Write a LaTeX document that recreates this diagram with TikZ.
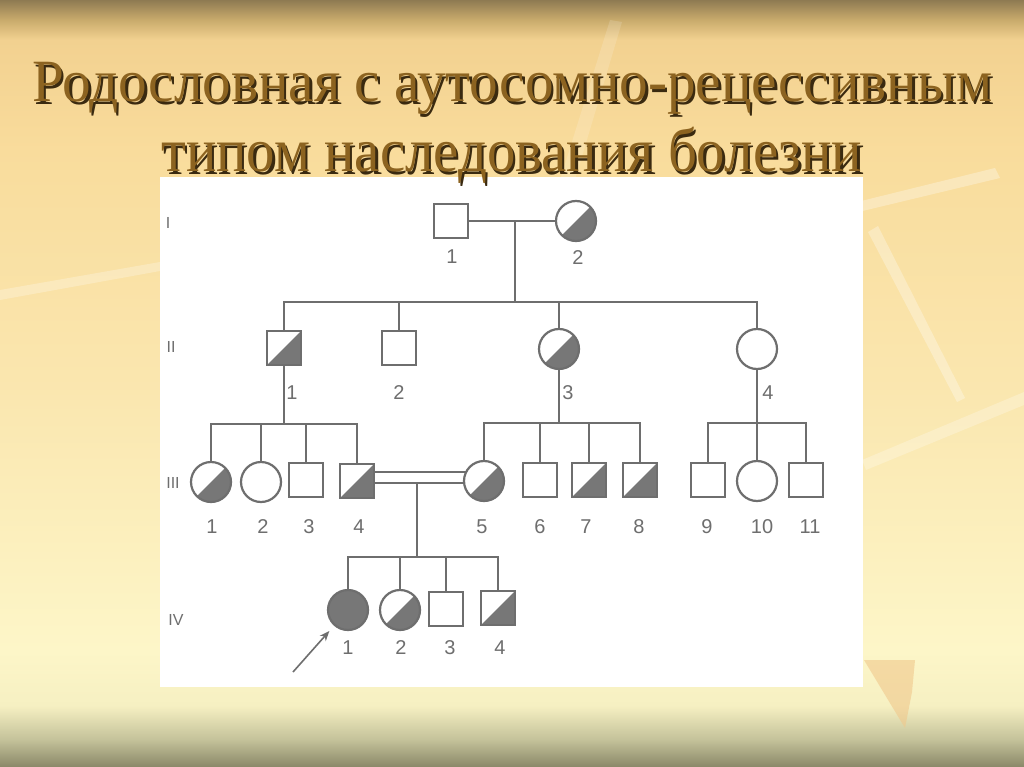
\documentclass[tikz,border=0pt]{standalone}
\usepackage{fontspec}
\setmainfont{Liberation Serif}
\newfontfamily\lblfont{Liberation Sans}
\usetikzlibrary{arrows.meta}
\definecolor{lc}{HTML}{6E6E6E}
\definecolor{fc}{HTML}{777777}
\definecolor{tc}{HTML}{8C6320}
\definecolor{ts}{HTML}{3A2A10}
\definecolor{peach}{HTML}{F0C88C}
\definecolor{b0}{HTML}{8A8868}
\definecolor{b1}{HTML}{C4C29A}
\definecolor{b2}{HTML}{F6F0C2}
\definecolor{b3}{HTML}{FDF6C8}
\definecolor{b4}{HTML}{FAE7B0}
\definecolor{b5}{HTML}{F9DC9C}
\definecolor{b6}{HTML}{F2D190}
\definecolor{b7}{HTML}{C9AB6C}
\definecolor{b8}{HTML}{8E7A52}
\pgfdeclareverticalshading{bgshade}{100bp}{color(0bp)=(b0); color(25bp)=(b0); color(26.8bp)=(b1); color(29bp)=(b2); color(32.6bp)=(b3); color(48.9bp)=(b4); color(65.2bp)=(b5); color(72.4bp)=(b6); color(73.7bp)=(b7); color(75bp)=(b8); color(100bp)=(b8)}
\pgfdeclarelayer{back}
\pgfdeclarelayer{conns}
\pgfsetlayers{back,conns,main}
\newcommand{\shadowedtext}[1]{\makebox[0pt][l]{\hspace{2.5pt}\raisebox{-2.5pt}{\textcolor{ts}{#1}}}\textcolor{tc}{#1}}
\tikzset{
 male/.style={rectangle, draw=lc, line width=2.2pt, fill=white, minimum size=34pt, inner sep=0pt},
 female/.style={circle, draw=lc, line width=2.2pt, fill=white, minimum size=40pt, inner sep=0pt},
 carrier/.style={path picture={\fill[fc] (path picture bounding box.south west) -- (path picture bounding box.south east) -- (path picture bounding box.north east) -- cycle;}},
 affected/.style={fill=fc},
 conn/.style={draw=lc, line width=2.2pt},
 num/.style={font=\lblfont\fontsize{20}{20}\selectfont, text=lc, inner sep=0pt},
 gen/.style={font=\lblfont\fontsize{16}{16}\selectfont, text=lc, inner sep=0pt},
 ttl/.style={anchor=base west, inner sep=0pt, font=\fontsize{60}{70}\selectfont},
}
\begin{document}
\begin{tikzpicture}[x=1pt,y=-1pt]
\useasboundingbox (0,0) rectangle (1024,767);
\begin{pgfonlayer}{back}
\fill[shading=bgshade] (0,0) rectangle (1024,767);
\fill[white, opacity=0.3] (868,232) -- (878,226) -- (965,398) -- (957,402) -- cycle;
\fill[white, opacity=0.3] (845,205) -- (995,168) -- (1000,178) -- (850,214) -- cycle;
\fill[white, opacity=0.25] (862,460) -- (1024,392) -- (1024,405) -- (866,470) -- cycle;
\fill[white, opacity=0.25] (0,290) -- (160,262) -- (160,271) -- (0,300) -- cycle;
\fill[white, opacity=0.15] (560,180) -- (610,20) -- (622,22) -- (575,180) -- cycle;
\fill[peach, opacity=0.6] (864,660) -- (915,660) -- (912,692) -- (905,728) -- cycle;
\fill[white] (160,177) rectangle (863,687);
\end{pgfonlayer}
% title
\node[ttl] (t1) at (32,102) {\resizebox{960pt}{\height}{\shadowedtext{Родословная с аутосомно-рецессивным}}};
\node[ttl, font=\fontsize{62}{70}\selectfont] (t2) at (161,172) {\resizebox{701pt}{\height}{\shadowedtext{типом наследования болезни}}};
% generation labels
\node[gen] (gI) at (168,223) {I};
\node[gen] (gII) at (171,347) {II};
\node[gen] (gIII) at (173,483) {III};
\node[gen] (gIV) at (176,620) {IV};
% generation I
\node[male] (I1) at (451,221) {};
\node[female, carrier] (I2) at (576,221) {};
\node[num] (lI1) at (452,257) {1};
\node[num] (lI2) at (578,258) {2};
% generation II
\node[male, carrier] (II1) at (284,348) {};
\node[male] (II2) at (399,348) {};
\node[female, carrier] (II3) at (559,349) {};
\node[female] (II4) at (757,349) {};
\node[num] (lII1) at (292,393) {1};
\node[num] (lII2) at (399,393) {2};
\node[num] (lII3) at (568,393) {3};
\node[num] (lII4) at (768,393) {4};
% generation III
\node[female, carrier] (III1) at (211,482) {};
\node[female] (III2) at (261,482) {};
\node[male] (III3) at (306,480) {};
\node[male, carrier] (III4) at (357,481) {};
\node[female, carrier] (III5) at (484,481) {};
\node[male] (III6) at (540,480) {};
\node[male, carrier] (III7) at (589,480) {};
\node[male, carrier] (III8) at (640,480) {};
\node[male] (III9) at (708,480) {};
\node[female] (III10) at (757,481) {};
\node[male] (III11) at (806,480) {};
\node[num] (lIII1) at (212,527) {1};
\node[num] (lIII2) at (263,527) {2};
\node[num] (lIII3) at (309,527) {3};
\node[num] (lIII4) at (359,527) {4};
\node[num] (lIII5) at (482,527) {5};
\node[num] (lIII6) at (540,527) {6};
\node[num] (lIII7) at (586,527) {7};
\node[num] (lIII8) at (639,527) {8};
\node[num] (lIII9) at (707,527) {9};
\node[num] (lIII10) at (762,527) {10};
\node[num] (lIII11) at (810,527) {11};
% generation IV
\node[female, affected] (IV1) at (348,610) {};
\node[female, carrier] (IV2) at (400,610) {};
\node[male] (IV3) at (446,609) {};
\node[male, carrier] (IV4) at (498,608) {};
\node[num] (lIV1) at (348,648) {1};
\node[num] (lIV2) at (401,648) {2};
\node[num] (lIV3) at (450,648) {3};
\node[num] (lIV4) at (500,648) {4};
% connectors
\coordinate (m1) at (515,221);
\coordinate (s2) at (515,302);
\coordinate (s3a) at (284,424);
\coordinate (s3b) at (559,423);
\coordinate (m3) at (417,483);
\coordinate (s4) at (417,557);
\coordinate (atail) at (293,672);
\begin{pgfonlayer}{conns}
\draw[conn] (I1) -- (I2);
\draw[conn] (m1) -- (s2);
\draw[conn] (II1.north) |- (s2) -| (II4.north);
\draw[conn] (II2.north) -- (II2.north |- s2);
\draw[conn] (II3.north) -- (II3.north |- s2);
\draw[conn] (II1.south) -- (s3a);
\draw[conn] (III1.north) |- (s3a) -| (III4.north);
\draw[conn] (III2.north) -- (III2.north |- s3a);
\draw[conn] (III3.north) -- (III3.north |- s3a);
\draw[conn] (II3.south) -- (s3b);
\draw[conn] (III5.north) |- (s3b) -| (III8.north);
\draw[conn] (III6.north) -- (III6.north |- s3b);
\draw[conn] (III7.north) -- (III7.north |- s3b);
\draw[conn] (II4.south) -- (III10.north);
\draw[conn] (III9.north) |- (III10.north |- s3b) -| (III11.north);
\draw[conn] ([yshift=9pt]III4.center) -- ([yshift=9pt]III5.center);
\draw[conn] ([yshift=-2pt]III4.center) -- ([yshift=-2pt]III5.center);
\draw[conn] (m3) -- (s4);
\draw[conn] (IV1.north) |- (s4) -| (IV4.north);
\draw[conn] (IV2.north) -- (IV2.north |- s4);
\draw[conn] (IV3.north) -- (IV3.north |- s4);
\draw[conn, line width=1.6pt, shorten >=7pt, -{Stealth[length=10pt,width=8pt]}] (atail) -- (IV1);
\end{pgfonlayer}
\end{tikzpicture}
\end{document}
